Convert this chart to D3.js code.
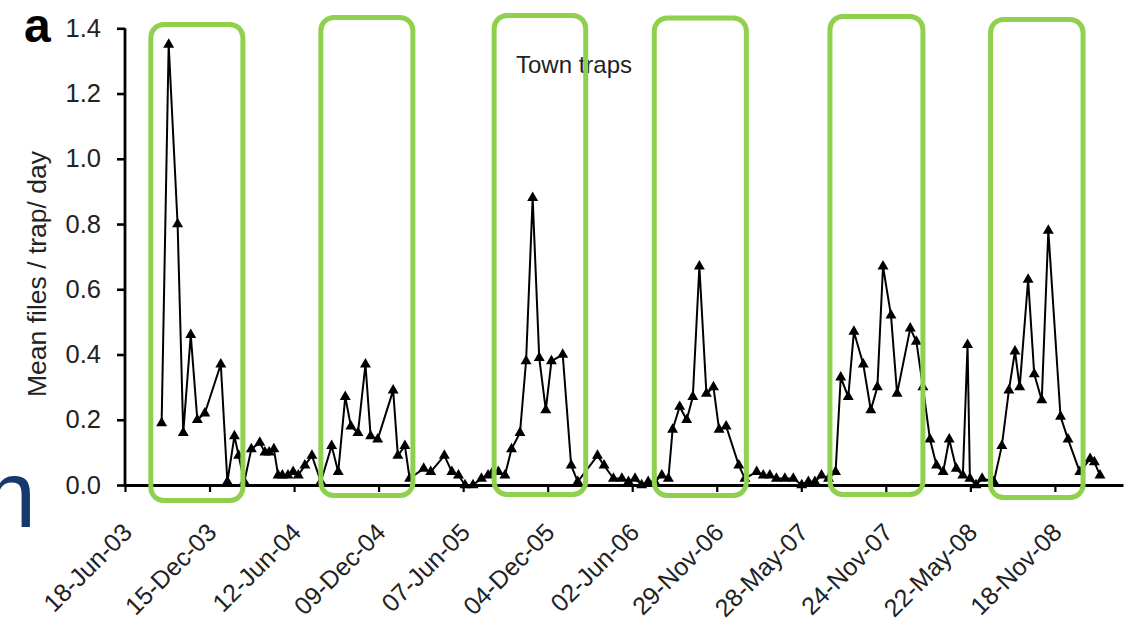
<!DOCTYPE html>
<html>
<head>
<meta charset="utf-8">
<script src="https://cdn.jsdelivr.net/npm/d3@7"></script>
<style>
  html, body { margin: 0; padding: 0; background: #fff; }
  svg { display: block; }
</style>
</head>
<body>
<svg id="chart" width="1127" height="625"></svg>
<script>
// ---- data: fortnightly catches in the town traps ----
const sampleDates = [
  "2003-09-04","2003-09-19","2003-10-08","2003-10-20","2003-11-05","2003-11-19","2003-12-05",
  "2004-01-08","2004-01-22","2004-02-06","2004-02-15","2004-02-27","2004-03-13","2004-03-31",
  "2004-04-11","2004-04-20","2004-04-30","2004-05-09","2004-05-18","2004-05-30","2004-06-10",
  "2004-06-21","2004-07-05","2004-07-20","2004-08-08","2004-08-31","2004-09-14","2004-09-29",
  "2004-10-11","2004-10-26","2004-11-11","2004-11-22","2004-12-07","2005-01-09","2005-01-19",
  "2005-02-03","2005-02-13","2005-03-15","2005-03-30","2005-04-28","2005-05-14","2005-05-28",
  "2005-06-11","2005-06-28","2005-07-16","2005-07-30","2005-08-09","2005-08-21","2005-09-04",
  "2005-09-18","2005-10-06","2005-10-19","2005-11-02","2005-11-16","2005-11-30","2005-12-12",
  "2006-01-05","2006-01-23","2006-02-06","2006-03-20","2006-04-03","2006-04-23","2006-05-11",
  "2006-05-25","2006-06-08","2006-06-22","2006-07-06","2006-07-20","2006-08-04","2006-08-18",
  "2006-08-27","2006-09-11","2006-09-26","2006-10-09","2006-10-23","2006-11-07","2006-11-22",
  "2006-12-04","2006-12-19","2007-01-15","2007-01-28","2007-02-22","2007-03-08","2007-03-22",
  "2007-04-05","2007-04-23","2007-05-11","2007-05-29","2007-06-12","2007-06-26","2007-07-10",
  "2007-07-25","2007-08-09","2007-08-20","2007-09-05","2007-09-17","2007-10-07","2007-10-23",
  "2007-11-06","2007-11-18","2007-12-05","2007-12-18","2008-01-15","2008-01-28","2008-02-11",
  "2008-02-26","2008-03-11","2008-03-25","2008-04-07","2008-04-22","2008-05-06","2008-05-16",
  "2008-05-21","2008-06-03","2008-06-16","2008-07-11","2008-07-28","2008-08-12","2008-08-25",
  "2008-09-04","2008-09-22","2008-10-05","2008-10-21","2008-11-04","2008-11-30","2008-12-16",
  "2009-01-10","2009-02-01","2009-02-10","2009-02-22"
];
const meanFlies = [
  0.19,1.35,0.80,0.16,0.46,0.20,0.22,
  0.37,0.01,0.15,0.09,0.01,0.11,0.13,
  0.10,0.10,0.11,0.03,0.03,0.03,0.04,
  0.03,0.06,0.09,0.01,0.12,0.04,0.27,
  0.18,0.16,0.37,0.15,0.14,0.29,0.09,
  0.12,0.02,0.05,0.04,0.09,0.04,0.03,
  0.00,0.00,0.02,0.03,0.04,0.04,0.03,
  0.11,0.16,0.38,0.88,0.39,0.23,0.38,
  0.40,0.06,0.01,0.09,0.06,0.02,0.02,
  0.01,0.02,0.00,0.01,0.01,0.03,0.02,
  0.17,0.24,0.20,0.27,0.67,0.28,0.30,
  0.17,0.18,0.06,0.02,0.04,0.03,0.03,
  0.02,0.02,0.02,0.00,0.01,0.01,0.03,
  0.02,0.04,0.33,0.27,0.47,0.37,0.23,
  0.30,0.67,0.52,0.28,0.48,0.44,0.30,
  0.14,0.06,0.04,0.14,0.05,0.03,0.43,
  0.02,0.00,0.02,0.01,0.12,0.29,0.41,
  0.30,0.63,0.34,0.26,0.78,0.21,0.14,
  0.04,0.08,0.07,0.03
];
const yTickValues = [0.0, 0.2, 0.4, 0.6, 0.8, 1.0, 1.2, 1.4];
const xTickLabels = [
  "18-Jun-03","15-Dec-03","12-Jun-04","09-Dec-04","07-Jun-05","04-Dec-05",
  "02-Jun-06","29-Nov-06","28-May-07","24-Nov-07","22-May-08","18-Nov-08"
];
// wet-season windows outlined on the plot
const seasonStarts = ["2003-08-12","2004-08-08","2005-08-12","2006-07-19","2007-07-28","2008-07-04"];
const seasonEnds   = ["2004-02-24","2005-02-20","2006-02-23","2007-01-31","2008-02-11","2009-01-17"];

const panelLetter = "a";
const panelTitle = "Town traps";
const yAxisTitle = "Mean files / trap/ day";
const sideGlyph = "n";

// ---- layout ----
const FONT = "'Liberation Sans', Arial, Helvetica, sans-serif";
const plotLeft = 125, plotRight = 1123, plotTop = 28.3, plotBottom = 485;
const boxTops = [24.5, 17.5, 15.5, 18, 16.5, 19.5];
const boxBottoms = [500.5, 495.5, 494.5, 495.5, 494.5, 497.5];

const parseISO = d3.timeParse("%Y-%m-%d");
const parseTick = d3.timeParse("%d-%b-%y");
const fmtTick = d3.timeFormat("%d-%b-%y");

const points = sampleDates.map((d, i) => ({ date: parseISO(d), value: meanFlies[i] }));
const tickDates = xTickLabels.map(parseTick);

const svg = d3.select("#chart");

const x = d3.scaleTime()
  .domain([parseISO("2003-06-18"), parseISO("2009-04-12")])
  .range([plotLeft, plotRight]);
const y = d3.scaleLinear()
  .domain([0, 1.4])
  .range([plotBottom, plotTop]);

// y axis
const yAxis = d3.axisLeft(y)
  .tickValues(yTickValues)
  .tickFormat(d3.format(".1f"))
  .tickSize(8)
  .tickPadding(16);
const gy = svg.append("g")
  .attr("transform", `translate(${plotLeft},0)`)
  .call(yAxis);
gy.select(".domain").attr("d", `M0,${plotTop}V${plotBottom}`)
  .attr("stroke", "#000").attr("stroke-width", 2.8);
gy.selectAll(".tick line").attr("stroke", "#000").attr("stroke-width", 2.6);
gy.selectAll(".tick text")
  .attr("font-family", FONT).attr("font-size", 25.5).attr("fill", "#222");

// x axis
const xAxis = d3.axisBottom(x)
  .tickValues(tickDates)
  .tickFormat(fmtTick)
  .tickSize(7)
  .tickSizeOuter(0);
const gx = svg.append("g")
  .attr("transform", `translate(0,${plotBottom})`)
  .call(xAxis);
gx.select(".domain").attr("stroke", "#000").attr("stroke-width", 3.2);
gx.selectAll(".tick line").attr("stroke", "#000").attr("stroke-width", 2.2);
gx.selectAll(".tick text")
  .attr("font-family", FONT).attr("font-size", 25).attr("fill", "#222")
  .attr("text-anchor", "end")
  .attr("transform", "translate(8,49) rotate(-45)")
  .attr("x", 0).attr("y", 0).attr("dy", 0);

// series
const line = d3.line().x(d => x(d.date)).y(d => y(d.value));
svg.append("path")
  .datum(points)
  .attr("fill", "none")
  .attr("stroke", "#000")
  .attr("stroke-width", 2)
  .attr("stroke-linejoin", "round")
  .attr("d", line);

const tri = d3.symbol().type(d3.symbolTriangle).size(52);
svg.append("g").selectAll("path")
  .data(points)
  .join("path")
  .attr("d", tri)
  .attr("transform", d => `translate(${x(d.date)},${y(d.value)})`)
  .attr("fill", "#000");

// panel title
svg.append("text")
  .attr("x", 574).attr("y", 73)
  .attr("text-anchor", "middle")
  .attr("font-family", FONT).attr("font-size", 24).attr("fill", "#222")
  .text(panelTitle);

// y axis title
svg.append("text")
  .attr("transform", "translate(46,274) rotate(-90)")
  .attr("text-anchor", "middle")
  .attr("font-family", FONT).attr("font-size", 26.5).attr("fill", "#222")
  .text(yAxisTitle);

// panel letter
svg.append("text")
  .attr("x", 24).attr("y", 42)
  .attr("font-family", FONT).attr("font-size", 48).attr("font-weight", "bold")
  .attr("fill", "#000")
  .text(panelLetter);

// fragment of neighbouring slide text on the left edge
svg.append("text")
  .attr("x", 36).attr("y", 527)
  .attr("text-anchor", "end")
  .attr("font-family", FONT).attr("font-size", 94)
  .attr("fill", "#17386a")
  .text(sideGlyph);

// season outlines
svg.append("g").selectAll("rect")
  .data(seasonStarts.map((s, i) => ({ start: parseISO(s), end: parseISO(seasonEnds[i]), i })))
  .join("rect")
  .attr("x", d => x(d.start))
  .attr("width", d => x(d.end) - x(d.start))
  .attr("y", d => boxTops[d.i])
  .attr("height", d => boxBottoms[d.i] - boxTops[d.i])
  .attr("rx", 13).attr("ry", 13)
  .attr("fill", "none")
  .attr("stroke", "#8fd04f")
  .attr("stroke-width", 5);
</script>
</body>
</html>
